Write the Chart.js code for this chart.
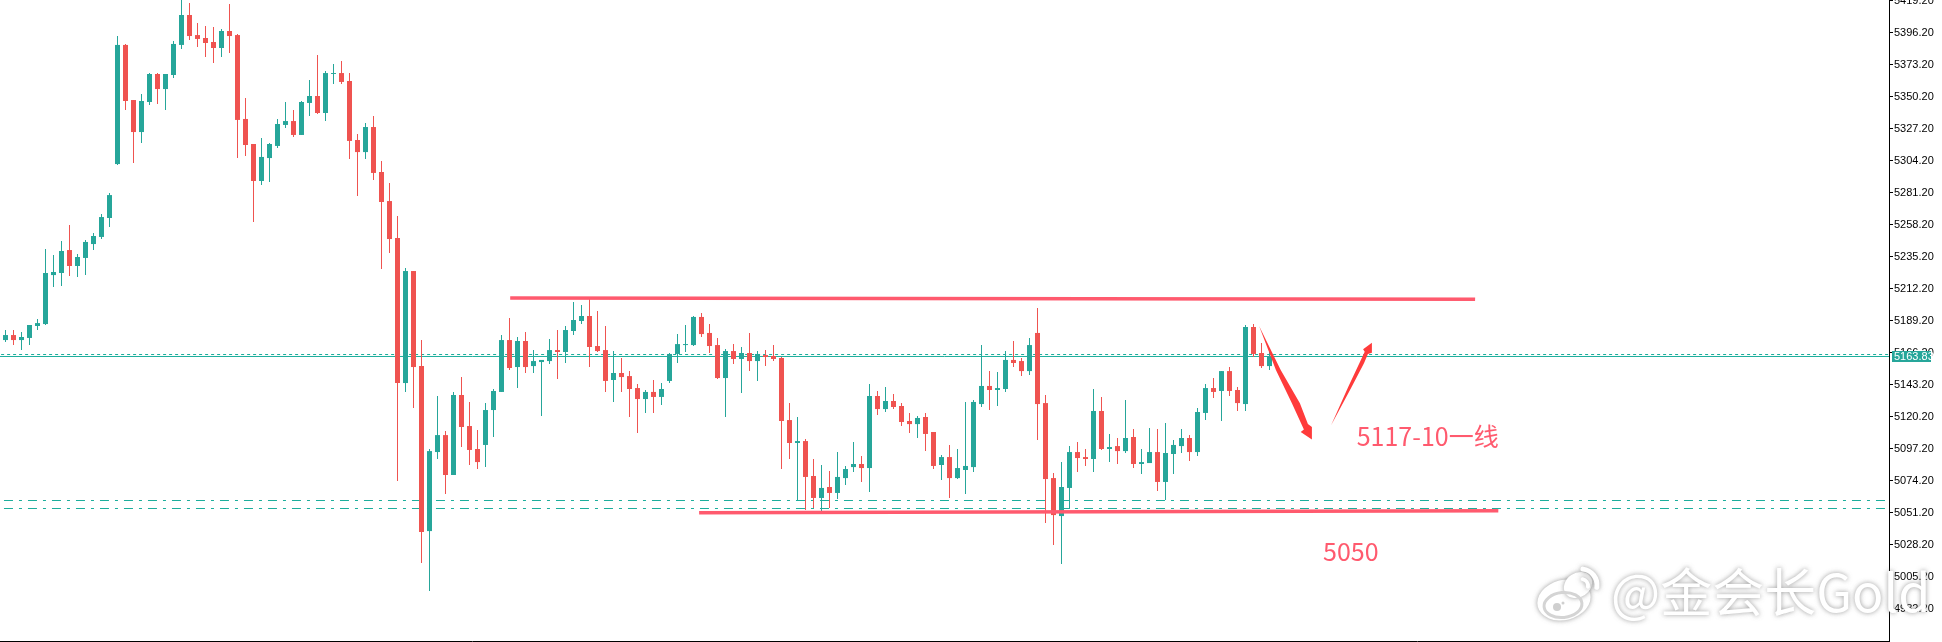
<!DOCTYPE html>
<html><head><meta charset="utf-8">
<script src="https://cdn.jsdelivr.net/npm/chart.js@4/dist/chart.umd.js"></script>
<style>html,body{margin:0;padding:0;background:#fff}canvas{display:block}</style>
</head><body><canvas id="c" width="1942" height="642"></canvas>
<script>
const opens=[5175.3,5178.9,5175.3,5176.8,5185.4,5186.8,5222.0,5223.5,5240.0,5228.5,
5234.3,5244.3,5249.4,5263.0,5301.8,5387.4,5347.8,5324.8,5346.4,5366.5,
5355.7,5365.8,5387.4,5408.9,5394.5,5392.4,5389.5,5385.2,5397.4,5394.5,
5334.2,5316.2,5289.6,5306.1,5314.8,5329.9,5332.7,5322.7,5345.7,5350.7,
5338.5,5366.5,5367.2,5361.5,5319.1,5310.4,5328.4,5296.1,5275.2,5248.6,
5144.4,5224.9,5156.6,5038.0,5094.8,5107.0,5078.3,5135.8,5113.5,5097.0,
5099.9,5125.0,5138.0,5175.3,5155.9,5174.6,5156.6,5159.5,5160.2,5168.1,
5166.7,5181.8,5189.0,5192.6,5171.0,5168.1,5146.6,5151.6,5149.4,5140.8,
5132.9,5138.0,5134.4,5145.9,5165.3,5171.7,5171.7,5191.9,5180.4,5171.7,
5148.0,5167.4,5161.7,5166.0,5160.2,5164.5,5163.8,5162.4,5117.8,5101.3,
5102.7,5077.6,5061.8,5069.7,5065.4,5076.1,5084.0,5086.2,5083.3,5135.1,
5125.7,5131.5,5127.9,5117.1,5114.9,5120.0,5109.2,5085.5,5091.2,5076.1,
5081.9,5084.0,5129.3,5142.3,5139.4,5140.1,5161.0,5160.2,5153.0,5180.4,
5130.0,5076.1,5048.8,5069.0,5094.8,5091.2,5089.8,5124.3,5097.0,5099.1,
5095.5,5105.6,5086.2,5086.9,5094.8,5073.3,5093.4,5099.1,5104.9,5094.8,
5122.9,5140.8,5138.7,5153.0,5139.4,5129.3,5184.7,5166.0,5156.6];
const highs=[5182.5,5182.5,5181.1,5186.1,5190.4,5240.7,5236.4,5246.5,5258.0,5237.1,
5247.2,5252.2,5265.9,5281.0,5393.8,5388.1,5347.8,5352.1,5367.2,5367.2,
5366.5,5390.2,5421.0,5417.5,5403.2,5401.0,5400.3,5398.9,5416.8,5395.3,
5349.3,5316.2,5320.5,5316.9,5334.2,5346.4,5340.6,5347.1,5362.2,5380.2,
5368.7,5373.7,5375.9,5367.2,5323.4,5331.3,5336.3,5304.0,5288.2,5264.4,
5227.1,5224.9,5175.3,5097.0,5135.1,5109.9,5138.0,5148.7,5130.8,5110.6,
5130.0,5140.1,5178.9,5191.1,5177.5,5181.1,5168.1,5161.0,5176.0,5182.5,
5185.4,5202.6,5200.5,5204.8,5196.2,5185.4,5167.4,5162.4,5153.0,5143.7,
5139.4,5146.6,5144.4,5166.0,5179.6,5186.1,5192.6,5194.7,5186.8,5176.8,
5168.9,5172.4,5170.3,5180.4,5167.4,5168.1,5171.7,5163.1,5130.0,5120.0,
5104.2,5089.8,5085.5,5081.2,5094.8,5084.8,5102.0,5091.9,5143.7,5138.7,
5141.5,5136.5,5130.0,5122.9,5120.7,5122.9,5109.2,5092.7,5099.9,5097.0,
5130.8,5132.2,5171.7,5153.0,5152.3,5167.4,5174.6,5162.4,5176.8,5198.3,
5135.8,5079.7,5087.6,5099.1,5102.0,5097.0,5140.1,5134.4,5107.8,5104.9,
5132.2,5111.4,5097.0,5112.1,5111.4,5115.7,5103.4,5111.4,5107.0,5126.5,
5143.7,5148.0,5153.0,5155.9,5141.5,5186.1,5186.8,5173.2,5166.7];
const lows=[5173.9,5171.7,5168.1,5171.7,5182.5,5186.1,5213.4,5214.1,5221.3,5220.6,
5222.0,5240.0,5247.9,5256.5,5301.1,5340.6,5302.5,5316.9,5344.2,5344.9,
5340.6,5363.6,5384.5,5391.0,5385.9,5378.7,5374.4,5378.7,5381.6,5306.1,
5307.6,5260.1,5286.7,5288.9,5313.3,5327.7,5321.2,5322.7,5336.3,5337.8,
5332.7,5359.3,5359.3,5305.4,5278.8,5305.4,5290.3,5226.4,5237.9,5074.0,
5138.0,5126.5,5015.0,4994.9,5089.8,5064.6,5078.3,5098.4,5085.5,5082.6,
5084.0,5105.6,5138.0,5153.8,5140.8,5151.6,5151.6,5120.7,5158.1,5147.3,
5158.8,5178.9,5186.8,5155.9,5166.7,5138.0,5130.8,5138.0,5120.0,5108.5,
5122.9,5122.9,5128.6,5144.4,5158.8,5166.7,5171.0,5177.5,5166.0,5147.3,
5120.0,5158.1,5137.2,5153.0,5145.9,5156.6,5160.2,5082.6,5089.8,5060.3,
5053.1,5054.6,5052.4,5054.6,5061.0,5071.1,5080.4,5073.3,5066.1,5121.4,
5123.6,5125.7,5113.5,5108.5,5104.9,5095.5,5082.6,5074.7,5061.8,5075.4,
5064.6,5080.4,5127.2,5125.0,5127.9,5138.0,5155.9,5149.4,5150.2,5103.4,
5043.8,5028.0,5014.3,5053.9,5080.4,5084.8,5080.4,5096.3,5087.6,5086.2,
5094.1,5083.3,5079.0,5086.9,5066.8,5060.3,5079.0,5094.1,5088.4,5091.9,
5117.8,5133.6,5117.1,5135.1,5124.3,5124.3,5163.1,5155.2,5153.8];
const closes=[5178.9,5175.3,5177.5,5186.1,5187.5,5223.5,5224.2,5239.3,5228.5,5235.0,
5245.8,5250.1,5263.7,5279.5,5387.4,5347.1,5324.8,5347.1,5366.5,5355.7,
5366.5,5388.1,5408.9,5393.8,5391.7,5388.8,5385.2,5397.4,5393.8,5333.5,
5315.5,5289.6,5306.9,5316.2,5330.6,5332.7,5322.7,5346.4,5350.7,5338.5,
5367.2,5367.2,5360.8,5318.4,5310.4,5328.4,5295.4,5274.5,5247.9,5144.4,
5224.9,5155.9,5037.3,5095.5,5107.0,5078.3,5135.8,5112.8,5096.3,5087.6,
5125.0,5138.7,5175.3,5155.2,5174.6,5155.9,5160.2,5161.0,5168.1,5166.7,
5182.5,5189.7,5192.6,5170.3,5167.4,5145.9,5151.6,5148.7,5140.1,5132.9,
5138.0,5134.4,5140.1,5165.3,5172.4,5172.4,5191.9,5179.6,5171.0,5148.0,
5167.4,5161.7,5166.0,5160.2,5165.3,5163.1,5161.7,5117.1,5101.3,5102.7,
5076.9,5061.8,5069.0,5065.4,5076.9,5082.6,5086.2,5083.3,5135.1,5125.7,
5131.5,5127.2,5116.4,5114.9,5119.3,5107.8,5084.8,5091.2,5076.1,5083.3,
5084.8,5130.8,5142.3,5139.4,5140.8,5161.0,5158.8,5153.0,5171.7,5129.3,
5075.4,5049.5,5069.7,5094.8,5090.5,5089.8,5124.3,5097.0,5098.4,5095.5,
5104.9,5086.2,5087.6,5094.8,5073.3,5094.1,5099.9,5104.9,5094.8,5123.6,
5140.8,5138.0,5153.0,5138.7,5130.0,5184.7,5165.3,5156.6,5163.8];
const yTicks=[5419.2,5396.2,5373.2,5350.2,5327.2,5304.2,5281.2,5258.2,5235.2,5212.2,5189.2,5166.2,5143.2,5120.2,5097.2,5074.2,5051.2,5028.2,5005.2,4982.2];
const lastPrice=5163.83, lastPriceLabel="5163.83";
const bidLine=5163.48, askLine=5164.91, levelA=5059.98, levelB=5054.23;
const xRange=[-0.6875,235.4375], yRange=[4959.0,5419.7];
const resistance=[{x:63.09,y:5205.5},{x:183.7,y:5204.6}];
const support=[{x:86.7,y:5051.2},{x:186.6,y:5052.6}];
const arrowDown=[[156.7,5185.4],[159.4,5153.8],[161.8,5129.8],[162.8,5114.9],[163.3,5112.8],[163.3,5103.8],[161.9,5109.2],[162.3,5111.0],[160.8,5129.8],[158.8,5153.8]];
const arrowUp=[[165.7,5114.0],[168.28,5141.8],[169.81,5158.6],[170.3,5165.3],[170.8,5166.2],[170.8,5173.4],[169.7,5168.6],[169.9,5166.9],[169.23,5158.6],[167.85,5141.8]];
const notes=[{text:"5117-10一线",x:168.9,y:5099.4},{text:"5050",x:164.7,y:5016.7}];
const watermark="@金会长Gold";

const UP="#26a69a",DOWN="#ef5350",LINE="#1cae9c",MARK="#ff5a6e",ARROW="#ff3b3b";
const colors=opens.map((o,i)=>closes[i]>=o?UP:DOWN);
const wicks=opens.map((o,i)=>({x:i,y:[lows[i],highs[i]]}));
const bodies=opens.map((o,i)=>({x:i,y:[o,closes[i]]}));
const hline=(v,dash,startX,w,order)=>({type:"line",data:[{x:startX,y:v},{x:xRange[1],y:v}],borderColor:LINE,borderWidth:w,borderDash:dash,pointRadius:0,order,tension:0,borderCapStyle:"butt"});

const overlay={id:"overlay",afterDraw(chart){
  const c=chart.ctx,X=chart.scales.x,Y=chart.scales.y;
  const py=Math.round(Y.getPixelForValue(lastPrice));
  c.save();
  c.fillStyle=UP;c.fillRect(1892,py-5,39,11);
  c.fillStyle="#fff";c.font="11px 'Liberation Sans Narrow','Liberation Sans'";c.textBaseline="middle";c.textAlign="left";
  c.fillText(lastPriceLabel,1894,py+0.5);
  c.fillStyle=ARROW;
  [arrowDown,arrowUp].forEach(p=>{c.beginPath();p.forEach((q,i)=>{const a=X.getPixelForValue(q[0]),b=Y.getPixelForValue(q[1]);i?c.lineTo(a,b):c.moveTo(a,b);});c.closePath();c.fill();});
  c.fillStyle=MARK;c.font="25px 'Noto Sans CJK SC'";c.textBaseline="alphabetic";
  notes.forEach(n=>c.fillText(n.text,X.getPixelForValue(n.x),Y.getPixelForValue(n.y)));
  c.shadowColor="rgba(110,110,110,.7)";c.shadowBlur=5;c.fillStyle="#fff";
  c.font="52px 'Noto Sans CJK SC'";
  c.fillText(watermark,1611,612);
  c.beginPath();c.ellipse(1564,600,27,20,-0.25,0,Math.PI*2);c.fill();
  c.beginPath();c.ellipse(1578,585,15,12,-0.6,0,Math.PI*2);c.fill();
  c.lineWidth=5;c.strokeStyle="#fff";c.lineCap="round";
  c.beginPath();c.arc(1581,585,16,-1.45,0.15);c.stroke();
  c.lineWidth=4;
  c.beginPath();c.arc(1581,586,7,-1.35,0.1);c.stroke();
  c.shadowBlur=0;
  c.strokeStyle="#d4d4d4";c.lineWidth=3;
  c.beginPath();c.ellipse(1563,605,19,12.5,-0.1,0,Math.PI*2);c.stroke();
  c.fillStyle="#cfcfcf";
  c.beginPath();c.arc(1557,607,4,0,Math.PI*2);c.fill();
  c.beginPath();c.arc(1563,603,1.5,0,Math.PI*2);c.fill();
  c.restore();
}};

new Chart(document.getElementById("c"),{
  type:"bar",
  data:{datasets:[
    hline(bidLine,[],xRange[0],1,9),
    hline(askLine,[3,3],-0.55,1,9),
    hline(levelA,[9,6,3,6],-0.19,1,9),
    hline(levelB,[9,6,3,6],-0.19,1,9),
    {type:"bar",data:wicks,backgroundColor:colors,barThickness:1,grouped:false,borderWidth:0,inflateAmount:0,order:8},
    {type:"bar",data:bodies,backgroundColor:colors,barThickness:5,grouped:false,borderWidth:0,inflateAmount:0,order:7},
    {type:"line",data:resistance,borderColor:MARK,borderWidth:3.5,pointRadius:0,order:1,tension:0},
    {type:"line",data:support,borderColor:MARK,borderWidth:3.5,pointRadius:0,order:1,tension:0}
  ]},
  options:{
    responsive:false,animation:false,devicePixelRatio:1,
    layout:{padding:0},
    plugins:{legend:{display:false},tooltip:{enabled:false}},
    events:[],
    scales:{
      x:{type:"linear",min:xRange[0],max:xRange[1],offset:false,
        grid:{display:false},border:{display:true,color:"#000",width:1},
        ticks:{display:false},
        afterFit(s){s.height=1;s.paddingLeft=0;s.paddingRight=0;}},
      y:{type:"linear",position:"right",min:yRange[0],max:yRange[1],
        afterBuildTicks(s){s.ticks=yTicks.map(v=>({value:v}));},
        grid:{drawOnChartArea:false,drawTicks:true,tickLength:4,color:"#000"},
        border:{display:true,color:"#000",width:1},
        ticks:{autoSkip:false,padding:1,color:"#000",font:{family:"'Liberation Sans Narrow','Liberation Sans'",size:11},callback:v=>v.toFixed(2)},
        afterFit(s){s.width=53;s.paddingTop=0;s.paddingBottom=0;}}
    }
  },
  plugins:[overlay]
});
</script></body></html>
